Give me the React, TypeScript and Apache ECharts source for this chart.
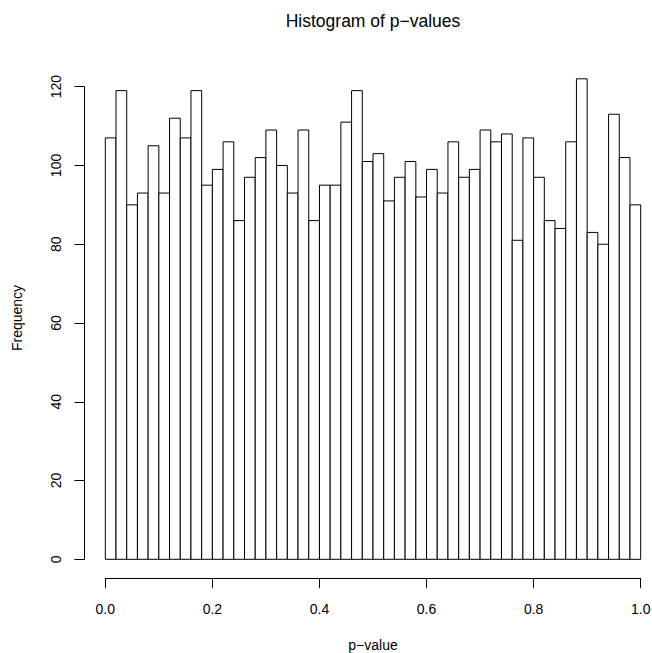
import React, { useEffect, useRef } from "react";
import * as echarts from "echarts";

const TITLE = "Histogram of p\u2212values";
const X_NAME = "p\u2212value";
const Y_NAME = "Frequency";
const BIN_WIDTH = 0.02;
const COUNTS = [
  107, 119, 90, 93, 105, 93, 112, 107, 119, 95,
  99, 106, 86, 97, 102, 109, 100, 93, 109, 86,
  95, 95, 111, 119, 101, 103, 91, 97, 101, 92,
  99, 93, 106, 97, 99, 109, 106, 108, 81, 107,
  97, 86, 84, 106, 122, 83, 80, 113, 102, 90,
];
const X_TICKS = [0, 0.2, 0.4, 0.6, 0.8, 1.0];
const Y_TICKS = [0, 20, 40, 60, 80, 100, 120];

const FONT = "Liberation Sans";
const TICK_LEN = 9.5;

export default function App() {
  const ref = useRef<HTMLDivElement>(null);
  useEffect(() => {
    if (!ref.current) return;
    const chart = echarts.init(ref.current, undefined, { renderer: "svg" });
    const data = COUNTS.map((c, i) => [
      +(i * BIN_WIDTH).toFixed(2),
      +((i + 1) * BIN_WIDTH).toFixed(2),
      c,
    ]);
    const xMin = X_TICKS[0];
    const xMax = X_TICKS[X_TICKS.length - 1];
    const xInt = X_TICKS[1] - X_TICKS[0];
    const yMin = Y_TICKS[0];
    const yMax = Y_TICKS[Y_TICKS.length - 1];
    const yInt = Y_TICKS[1] - Y_TICKS[0];
    const hiddenX = (gridIndex: number) => ({
      type: "value",
      gridIndex,
      show: false,
      min: xMin,
      max: xMax,
      interval: xInt,
      axisLine: { show: false, onZero: false },
      splitLine: { show: false },
    });
    const hiddenY = (gridIndex: number) => ({
      type: "value",
      gridIndex,
      show: false,
      min: yMin,
      max: yMax,
      interval: yInt,
      axisLine: { show: false, onZero: false },
      splitLine: { show: false },
    });
    chart.setOption({
      animation: false,
      backgroundColor: "#ffffff",
      textStyle: { fontFamily: FONT, color: "#000" },
      graphic: [
        {
          type: "text",
          x: 373,
          y: 21.2,
          style: {
            text: TITLE,
            fontFamily: FONT,
            fontSize: 17.5,
            fill: "#000",
            textAlign: "center",
            textVerticalAlign: "middle",
          },
        },
      ],
      grid: [
        { left: 105.3, right: 11.3, top: 86.7, bottom: 93.7, containLabel: false, outerBoundsMode: "none" },
        { left: 105.3, right: 11.3, top: 86.7, bottom: 74.3, containLabel: false, outerBoundsMode: "none" },
        { left: 84, right: 11.3, top: 86.7, bottom: 93.7, containLabel: false, outerBoundsMode: "none" },
      ],
      xAxis: [
        hiddenX(0),
        {
          type: "value",
          gridIndex: 1,
          min: xMin,
          max: xMax,
          interval: xInt,
          z: 10,
          name: X_NAME,
          nameLocation: "middle",
          nameGap: 59.5,
          nameTextStyle: { fontFamily: FONT, fontSize: 14, color: "#000" },
          axisLine: { show: true, onZero: false, lineStyle: { color: "#000000", width: 1 } },
          axisTick: { show: true, inside: false, length: TICK_LEN, lineStyle: { color: "#000000", width: 1 } },
          axisLabel: {
            fontFamily: FONT,
            fontSize: 14,
            color: "#000",
            margin: 23.5,
            formatter: (v: number) => v.toFixed(1),
          },
          splitLine: { show: false },
        },
        hiddenX(2),
      ],
      yAxis: [
        hiddenY(0),
        hiddenY(1),
        {
          type: "value",
          gridIndex: 2,
          min: yMin,
          max: yMax,
          interval: yInt,
          z: 10,
          name: Y_NAME,
          nameLocation: "middle",
          nameGap: 60,
          nameRotate: 90,
          nameTextStyle: { fontFamily: FONT, fontSize: 14, color: "#000", padding: [0, 0, 0, 10] },
          axisLine: { show: true, onZero: false, lineStyle: { color: "#000000", width: 1 } },
          axisTick: { show: true, inside: false, length: TICK_LEN, lineStyle: { color: "#000000", width: 1 } },
          axisLabel: {
            fontFamily: FONT,
            fontSize: 14,
            color: "#000",
            rotate: 90,
            margin: 20.6,
          },
          splitLine: { show: false },
        },
      ],
      series: [
        {
          type: "custom",
          xAxisIndex: 0,
          yAxisIndex: 0,
          clip: false,
          encode: { x: [0, 1], y: 2 },
          data,
          renderItem: (params: any, api: any) => {
            const p0 = api.coord([api.value(0), 0]);
            const p1 = api.coord([api.value(1), api.value(2)]);
            return {
              type: "rect",
              shape: {
                x: p0[0],
                y: p1[1],
                width: p1[0] - p0[0],
                height: p0[1] - p1[1],
              },
              style: { fill: "#ffffff", stroke: "#000000", lineWidth: 1 },
            };
          },
        },
      ],
    });
    return () => chart.dispose();
  }, []);
  return (
    <div
      ref={ref}
      style={{ position: "fixed", left: 0, top: 0, width: 652, height: 653, background: "#fff" }}
    />
  );
}
